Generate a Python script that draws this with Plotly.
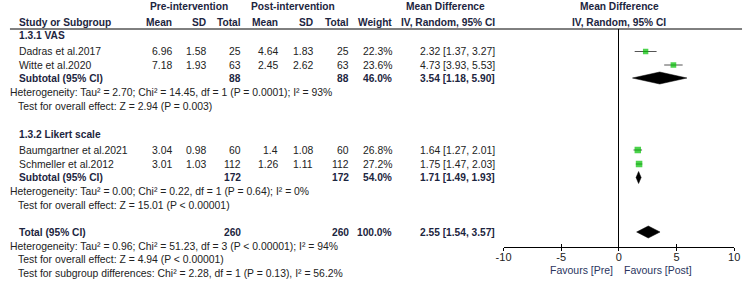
import plotly.graph_objects as go

# ---------------- data ----------------
studies = ["Dadras et al.2017", "Witte et al.2020", "Baumgartner et al.2021", "Schmeller et al.2012"]
pre_mean = ["6.96", "7.18", "3.04", "3.01"]
pre_sd = ["1.58", "1.93", "0.98", "1.03"]
pre_n = [25, 63, 60, 112]
post_mean = ["4.64", "2.45", "1.4", "1.26"]
post_sd = ["1.83", "2.62", "1.08", "1.11"]
post_n = [25, 63, 60, 112]
weight = [22.3, 23.6, 26.8, 27.2]
md = [2.32, 4.73, 1.64, 1.75]
ci_lo = [1.37, 3.93, 1.27, 1.47]
ci_hi = [3.27, 5.53, 2.01, 2.03]

pooled_names = ["Subtotal (95% CI)", "Subtotal (95% CI)", "Total (95% CI)"]
pooled_pre_n = [88, 172, 260]
pooled_post_n = [88, 172, 260]
pooled_weight = ["46.0%", "54.0%", "100.0%"]
pooled_md = [3.54, 1.71, 2.55]
pooled_lo = [1.18, 1.49, 1.54]
pooled_hi = [5.90, 1.93, 3.57]

groups = ["1.3.1 VAS", "1.3.2 Likert scale"]
heterogeneity = [
    "Heterogeneity: Tau² = 2.70; Chi² = 14.45, df = 1 (P = 0.0001); I² = 93%",
    "Heterogeneity: Tau² = 0.00; Chi² = 0.22, df = 1 (P = 0.64); I² = 0%",
    "Heterogeneity: Tau² = 0.96; Chi² = 51.23, df = 3 (P < 0.00001); I² = 94%",
]
overall = [
    "Test for overall effect: Z = 2.94 (P = 0.003)",
    "Test for overall effect: Z = 15.01 (P < 0.00001)",
    "Test for overall effect: Z = 4.94 (P < 0.00001)",
]
subgroup_test = "Test for subgroup differences: Chi² = 2.28, df = 1 (P = 0.13), I² = 56.2%"
tick_vals = [-10, -5, 0, 5, 10]
tick_text = ["-10", "-5", "0", "5", "10"]

# ---------------- layout (pixel rows) ----------------
W, H = 750, 282
study_rows = [51.5, 65, 150, 164]
pooled_rows = [78, 177.5, 232]
group_rows = [35, 134.5]
het_rows = [92, 191, 246]
overall_rows = [107, 205, 259.5]
subgroup_row = 273
AX_TOP, AX_BOT = 29, 247
X0, X1 = 505, 740

FONT = "Liberation Sans, Arial, sans-serif"
TXT = "#222222"
BOLD = "#1c2540"
FS = 10.4
FSB = 10.2

def fx(p):
    return p / W

def fy(p):
    return 1 - p / H

ann = []

def text(s, x, y, anchor="left", bold=False, color=None, size=None):
    ann.append(dict(
        text=("<b>%s</b>" % s) if bold else s,
        x=fx(x), y=fy(y), xref="paper", yref="paper",
        xanchor=anchor, yanchor="middle", showarrow=False, borderpad=0,
        font=dict(family=FONT, size=size or (FSB if bold else FS),
                  color=color or (BOLD if bold else TXT)),
    ))

# header rows
text("Pre-intervention", 184, 7, "center", True)
text("Post-intervention", 290, 7, "center", True)
text("Mean Difference", 446, 7, "center", True)
text("Mean Difference", 623, 7, "center", True)
text("Study or Subgroup", 10, 22, "left", True)
for lab, xr in [("Mean", 168), ("SD", 203), ("Total", 238), ("Mean", 276), ("SD", 312),
                ("Total", 349), ("Weight", 392), ("IV, Random, 95% CI", 497)]:
    text(lab, xr, 22, "right", True)
text("IV, Random, 95% CI", 623, 22, "center", True)

cols = [168, 203, 238, 276, 312, 349, 392, 497]

for i, name in enumerate(studies):
    y = study_rows[i]
    text(name, 10, y)
    vals = [pre_mean[i], pre_sd[i], str(pre_n[i]), post_mean[i], post_sd[i], str(post_n[i]),
            "%.1f%%" % weight[i], "%.2f [%.2f, %.2f]" % (md[i], ci_lo[i], ci_hi[i])]
    for v, xr in zip(vals, cols):
        text(v, xr, y, "right")

for g, y in zip(groups, group_rows):
    text(g, 10, y, "left", True)

for j in range(3):
    y = pooled_rows[j]
    text(pooled_names[j], 10, y, "left", True)
    text(str(pooled_pre_n[j]), 238, y, "right", True)
    text(str(pooled_post_n[j]), 349, y, "right", True)
    text(pooled_weight[j], 392, y, "right", True)
    text("%.2f [%.2f, %.2f]" % (pooled_md[j], pooled_lo[j], pooled_hi[j]), 497, y, "right", True)
    text(heterogeneity[j], 1, het_rows[j])
    text(overall[j], 9, overall_rows[j])
text(subgroup_test, 9, subgroup_row)

text("Favours [Pre]", 618, 269.5, "right", color="#2a3560", size=10.5)
text("Favours [Post]", 627, 269.5, "left", color="#2a3560", size=10.5)

# ---------------- figure ----------------
fig = go.Figure()

fig.add_trace(go.Scatter(
    x=md, y=study_rows, mode="markers",
    marker=dict(symbol="square", size=[w * 0.24 for w in weight], color="#00c000",
                line=dict(width=0)),
    error_x=dict(type="data", symmetric=False,
                 array=[h - m for h, m in zip(ci_hi, md)],
                 arrayminus=[m - l for m, l in zip(md, ci_lo)],
                 color="#555555", thickness=1, width=0),
    showlegend=False, hoverinfo="skip",
))

HALF = 6
for j in range(3):
    y = pooled_rows[j]
    fig.add_trace(go.Scatter(
        x=[pooled_lo[j], pooled_md[j], pooled_hi[j], pooled_md[j], pooled_lo[j]],
        y=[y, y - HALF, y, y + HALF, y],
        mode="lines", fill="toself", fillcolor="black",
        line=dict(color="black", width=0.5),
        showlegend=False, hoverinfo="skip",
    ))

fig.add_trace(go.Scatter(x=[0], y=[AX_BOT], xaxis="x2", mode="markers",
                         marker=dict(opacity=0), showlegend=False, hoverinfo="skip"))

xdom = [fx(X0), fx(X1)]
fig.update_layout(
    width=W, height=H,
    margin=dict(l=0, r=0, t=0, b=0),
    paper_bgcolor="white", plot_bgcolor="rgba(0,0,0,0)",
    annotations=ann,
    xaxis=dict(domain=xdom, range=[-10, 10], tickvals=tick_vals, ticktext=tick_text,
               showline=True, linecolor="black", linewidth=1,
               ticks="inside", ticklen=3, tickcolor="black", tickwidth=1,
               showgrid=False, zeroline=True, zerolinecolor="black", zerolinewidth=1,
               tickfont=dict(family=FONT, size=11, color=TXT), fixedrange=True),
    xaxis2=dict(domain=xdom, range=[-10, 10], overlaying="x", anchor="y", side="bottom",
                tickvals=tick_vals, showticklabels=False, ticks="outside", ticklen=3,
                tickcolor="black", tickwidth=1, showline=False, showgrid=False,
                zeroline=False),
    yaxis=dict(domain=[fy(AX_BOT), fy(AX_TOP)], range=[AX_BOT, AX_TOP], visible=False,
               showgrid=False, zeroline=False, fixedrange=True),
    shapes=[dict(type="line", xref="paper", yref="paper", x0=fx(2), x1=fx(748),
                 y0=fy(AX_TOP), y1=fy(AX_TOP), line=dict(color="black", width=1))],
)

fig.write_html("out.html", config={"displayModeBar": False},
               post_script="document.body.style.margin='0';document.body.style.overflow='hidden';")
